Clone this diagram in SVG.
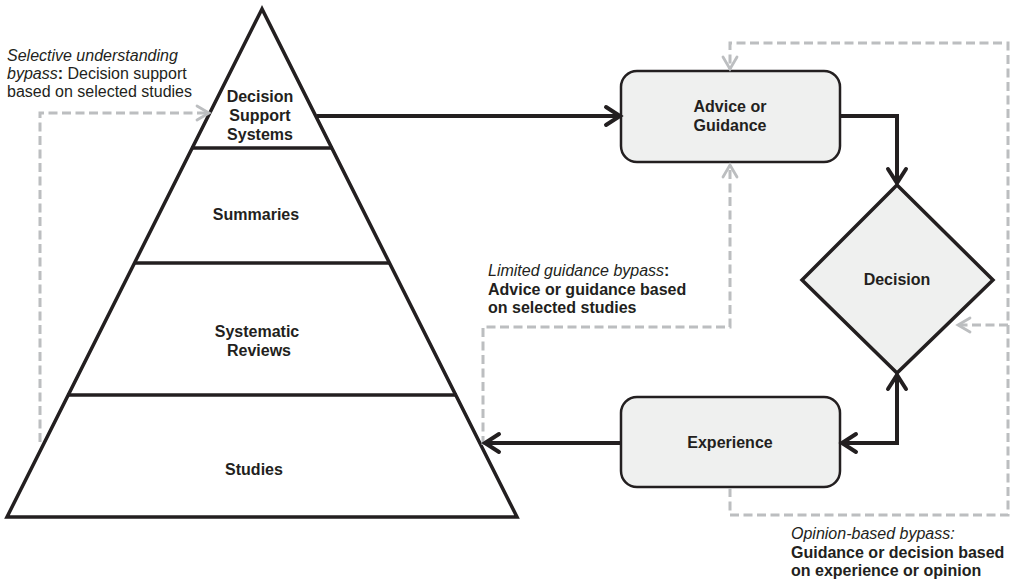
<svg xmlns="http://www.w3.org/2000/svg" width="1013" height="579" viewBox="0 0 1013 579">
<style>
.lbl{font-family:"Liberation Sans",Arial,sans-serif;font-size:16px;font-weight:bold;fill:#231f20;text-anchor:middle}
.ann{font-family:"Liberation Sans",Arial,sans-serif;font-size:16px;fill:#231f20}
.it{font-style:italic}
.b{font-weight:bold}
.box{fill:#eff0ef;stroke:#231f20;stroke-width:2.5}
.pyr{fill:#ffffff;stroke:#231f20;stroke-width:3.5;stroke-linejoin:miter}
.sep{stroke:#231f20;stroke-width:3.5}
.solid{fill:none;stroke:#231f20;stroke-width:4}
.dash{fill:none;stroke:#bcbec0;stroke-width:3;stroke-dasharray:9 4.5}
</style>
<defs>
<marker id="ah" markerUnits="userSpaceOnUse" markerWidth="24" markerHeight="24" viewBox="0 0 24 24" refX="20" refY="12" orient="auto-start-reverse">
<path d="M6,3 L20,12 L6,21" fill="none" stroke="#231f20" stroke-width="4" stroke-linecap="round" stroke-linejoin="miter"/>
</marker>
<marker id="gh" markerUnits="userSpaceOnUse" markerWidth="20" markerHeight="20" viewBox="0 0 20 20" refX="16" refY="10" orient="auto">
<path d="M4,3 L16,10 L4,17" fill="none" stroke="#bcbec0" stroke-width="2.8" stroke-linecap="round"/>
</marker>
</defs>
<g id="pyramid">
<polygon class="pyr" points="262,9 7,517 517,517"/>
<line class="sep" x1="191" y1="148" x2="333" y2="148"/>
<line class="sep" x1="134" y1="263" x2="390" y2="263"/>
<line class="sep" x1="67" y1="395" x2="457" y2="395"/>
</g>
<g id="dss">
<text class="lbl" x="260" y="102">Decision</text>
<text class="lbl" x="260" y="121">Support</text>
<text class="lbl" x="260" y="140">Systems</text>
</g>
<g id="summaries"><text class="lbl" x="256" y="220">Summaries</text></g>
<g id="reviews">
<text class="lbl" x="257" y="337">Systematic</text>
<text class="lbl" x="259" y="356">Reviews</text>
</g>
<g id="studies"><text class="lbl" x="254" y="475">Studies</text></g>
<g id="advice">
<rect class="box" x="621" y="71" width="219" height="91" rx="16"/>
<text class="lbl" x="730" y="112">Advice or</text>
<text class="lbl" x="730" y="131">Guidance</text>
</g>
<g id="decision">
<polygon points="897,185 993,280 897,373 802,280" fill="#eff0ef" stroke="#231f20" stroke-width="3.5"/>
<text class="lbl" x="897" y="285">Decision</text>
</g>
<g id="experience">
<rect class="box" x="621" y="397" width="219" height="90" rx="16"/>
<text class="lbl" x="730" y="448">Experience</text>
</g>
<g id="connectors">
<path class="dash" d="M40,442 V113 H209" marker-end="url(#gh)"/>
<path class="dash" d="M483,445 V327 H730 V165" marker-end="url(#gh)"/>
<path class="dash" d="M730,488 V515 H1008 V43 H730 V69" marker-end="url(#gh)"/>
<path class="dash" d="M1008,325 H958" marker-end="url(#gh)"/>
<path class="solid" d="M317,116 H620" marker-end="url(#ah)"/>
<path class="solid" d="M840,116 H897 V183" marker-end="url(#ah)"/>
<path class="solid" d="M621,443 H485" marker-end="url(#ah)"/>
<path class="solid" d="M897,375 V443 H842" marker-start="url(#ah)" marker-end="url(#ah)"/>
</g>
<g id="annotations">
<text class="ann" x="7" y="61"><tspan class="it">Selective understanding</tspan></text>
<text class="ann" x="7" y="79"><tspan class="it">bypass</tspan><tspan class="b">:</tspan> Decision support</text>
<text class="ann" x="7" y="97">based on selected studies</text>
<text class="ann" x="488" y="276"><tspan class="it">Limited guidance bypass</tspan><tspan class="b">:</tspan></text>
<text class="ann b" x="488" y="295">Advice or guidance based</text>
<text class="ann b" x="488" y="313">on selected studies</text>
<text class="ann it" x="791" y="539">Opinion-based bypass:</text>
<text class="ann b" x="791" y="558">Guidance or decision based</text>
<text class="ann b" x="791" y="576">on experience or opinion</text>
</g>
</svg>
